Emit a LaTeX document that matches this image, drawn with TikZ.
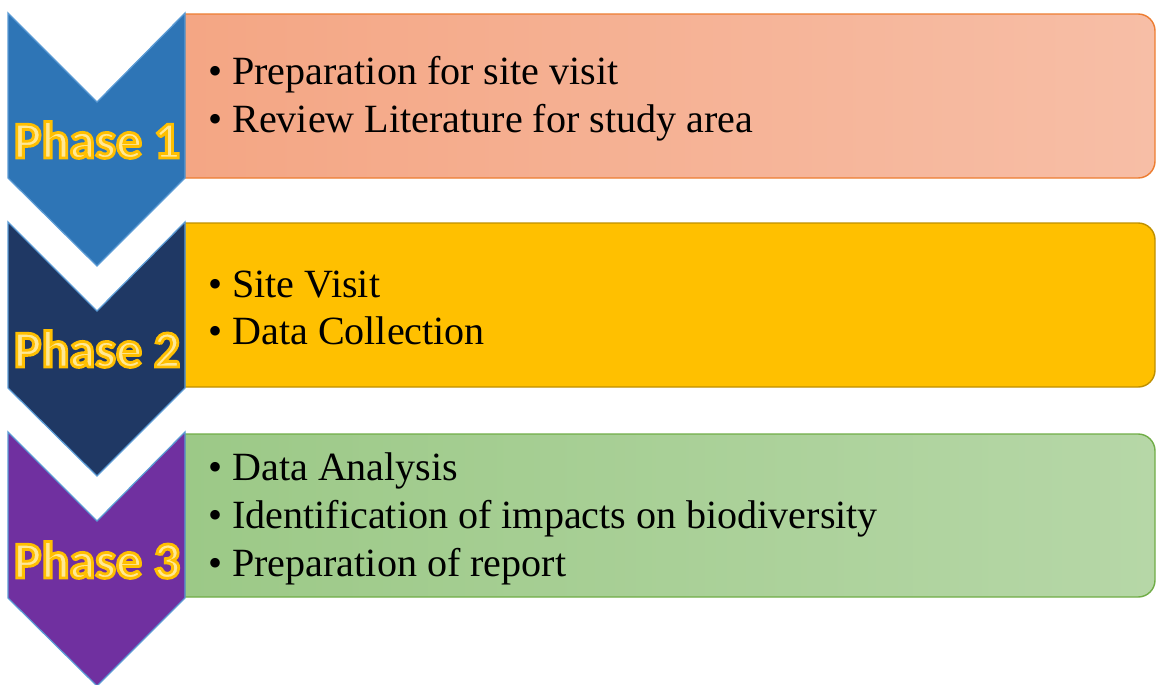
\documentclass[tikz,border=0pt]{standalone}
\usepackage{fontspec}
\setmainfont{Liberation Serif}
\newfontfamily\phasefont{Carlito}
\definecolor{chevedge}{RGB}{91,155,213}
\definecolor{phaseone}{RGB}{46,117,182}
\definecolor{phasetwo}{RGB}{31,56,100}
\definecolor{phasethree}{RGB}{112,48,160}
\definecolor{salmonL}{RGB}{244,166,132}
\definecolor{salmonR}{RGB}{247,190,166}
\definecolor{salmonEdge}{RGB}{237,125,49}
\definecolor{gold}{RGB}{255,192,0}
\definecolor{goldEdge}{RGB}{191,144,0}
\definecolor{greenL}{RGB}{156,201,135}
\definecolor{greenR}{RGB}{182,215,167}
\definecolor{greenEdge}{RGB}{112,173,71}
\definecolor{paleyellow}{RGB}{255,232,150}
\usetikzlibrary{positioning}
% outlined label text: fill + stroke render mode
\newcommand\outlinetext[1]{\special{pdf:literal direct 2 Tr 2 w 1 0.75 0 RG}#1\special{pdf:literal direct 0 Tr}}
\tikzset{
  chev/.style={draw=chevedge, line width=0.9pt, line join=miter},
  panel/.style={line width=1pt},
  phase/.style={font=\phasefont\bfseries\fontsize{37}{40}\selectfont, text=paleyellow, inner sep=0pt},
  items/.style={font=\fontsize{28.5}{34}\selectfont, align=left, anchor=west, inner sep=0pt},
}

\begin{document}
\begin{tikzpicture}[x=0.025cm, y=-0.025cm]
  \useasboundingbox (0,0) rectangle (1156,684);
  % panels
  \path[panel, draw=salmonEdge, left color=salmonL, right color=salmonR]
    (185,14) -- (1000,14) [rounded corners=12pt] -- (1155,14) -- (1155,178) -- (1000,178) [sharp corners] -- (185,178) -- cycle;
  \path[panel, draw=goldEdge, fill=gold]
    (185,223) -- (1000,223) [rounded corners=12pt] -- (1155,223) -- (1155,387) -- (1000,387) [sharp corners] -- (185,387) -- cycle;
  \path[panel, draw=greenEdge, left color=greenL, right color=greenR]
    (185,434) -- (1000,434) [rounded corners=12pt] -- (1155,434) -- (1155,597) -- (1000,597) [sharp corners] -- (185,597) -- cycle;
  % chevrons
  \draw[chev, fill=phaseone]   (8,13) -- (97,102) -- (185,13) -- (185,178) -- (97,266) -- (8,178) -- cycle;
  \draw[chev, fill=phasetwo]   (8,222) -- (97,311) -- (185,222) -- (185,388) -- (97,476) -- (8,388) -- cycle;
  \draw[chev, fill=phasethree] (8,432) -- (97,521) -- (185,432) -- (185,598) -- (97,686) -- (8,598) -- cycle;
  % labels
  \node[phase] (ph1) at (97,140) {\outlinetext{Phase 1}};
  \node[phase] (ph2) at (97,349) {\outlinetext{Phase 2}};
  \node[phase] (ph3) at (97,560) {\outlinetext{Phase 3}};
  \node[items] (list1) at (208,99)  {• Preparation for site visit\\• Review Literature for study area};
  \node[items] (list2) at (208,308) {• Site Visit\\• Data Collection};
  \node[items] (list3) at (208,519) {• Data Analysis\\• Identification of impacts on biodiversity\\• Preparation of report};
\end{tikzpicture}
\end{document}
